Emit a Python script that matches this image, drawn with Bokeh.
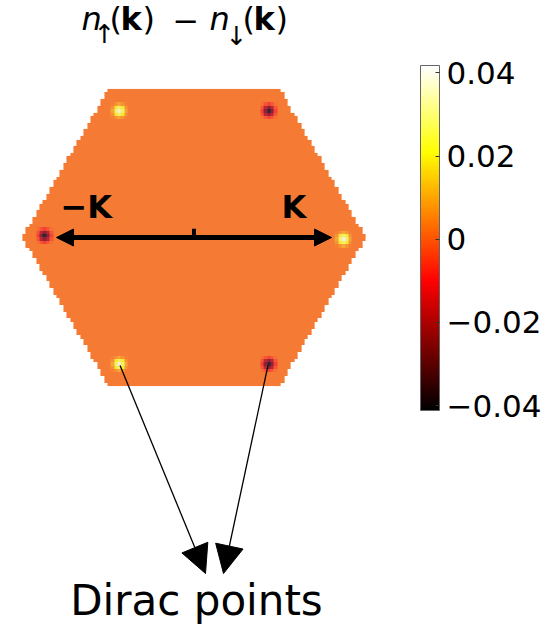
import numpy as np
from bokeh.plotting import figure
from bokeh.models import (Range1d, LinearColorMapper, ColorBar, FixedTicker,
                          CustomJSTickFormatter, Arrow, NormalHead, Label)
from bokeh.embed import file_html
from bokeh.resources import INLINE

# ---- data: spin polarisation n_up(k) - n_down(k) over the hexagonal zone ----
K_LEN = 4 * np.pi / 3                 # |K| for unit lattice constant
zone_scale = 1.16                     # sampled hexagon vertex radius in units of |K|
grid_cols = 101
grid_rows = 88
background_value = 0.003              # polarisation away from the Dirac points
dirac_angles_deg = [0, 60, 120, 180, 240, 300]
dirac_peaks = [0.037, -0.040, 0.037, -0.040, 0.037, -0.040]
# relative weight of a Dirac-point peak on the neighbouring grid cells
spot_kernel = [
    [0.03, 0.12, 0.20, 0.12, 0.03],
    [0.12, 0.50, 0.68, 0.50, 0.12],
    [0.20, 0.68, 1.00, 0.68, 0.20],
    [0.12, 0.50, 0.68, 0.50, 0.12],
    [0.03, 0.12, 0.20, 0.12, 0.03],
]
gamma_point = (0.0, 0.0)
cbar_ticks = [-0.04, -0.02, 0.0, 0.02, 0.04]
cbar_low, cbar_high = -0.0412, 0.0418

# ---- page layout (pixels) ----
W, H = 546, 639
CX, CY = 193.5, 237.0                 # pixel position of the Gamma point
PX_PER_K = 35.3


def kx(px):
    return (px - CX) / PX_PER_K


def ky(py):
    return (CY - py) / PX_PER_K


# ---- "hot" colour map ----
def hot_palette(n=256):
    cols = []
    for i in range(n):
        t = i / (n - 1)
        r = min(1.0, t / 0.375)
        g = min(1.0, max(0.0, (t - 0.375) / 0.375))
        b = min(1.0, max(0.0, (t - 0.75) / 0.25))
        cols.append("#%02x%02x%02x" % (round(r * 255), round(g * 255), round(b * 255)))
    return cols


mapper = LinearColorMapper(palette=hot_palette(), low=cbar_low, high=cbar_high,
                           nan_color="rgba(0,0,0,0)")

# ---- k-grid restricted to the hexagon ----
R = zone_scale * K_LEN
half_h = np.sqrt(3) / 2 * R
dx = 2 * R / grid_cols
dy = 2 * half_h / grid_rows
xc = -R + (np.arange(grid_cols) + 0.5) * dx
yc = -half_h + (np.arange(grid_rows) + 0.5) * dy
X, Y = np.meshgrid(xc, yc)
inside = (np.abs(Y) <= half_h) & (np.abs(Y) <= np.sqrt(3) * (R - np.abs(X)) + 1e-9)

field = np.full(X.shape, background_value)
kern = np.array(spot_kernel)
kr = kern.shape[0] // 2
dirac_x, dirac_y = [], []
for ang, peak in zip(dirac_angles_deg, dirac_peaks):
    px_ = K_LEN * np.cos(np.radians(ang))
    py_ = K_LEN * np.sin(np.radians(ang))
    dirac_x.append(px_)
    dirac_y.append(py_)
    ci = int(np.argmin(np.abs(xc - px_)))
    ri = int(np.argmin(np.abs(yc - py_)))
    for a in range(-kr, kr + 1):
        for b in range(-kr, kr + 1):
            w = kern[a + kr, b + kr]
            r_, c_ = ri + a, ci + b
            if 0 <= r_ < grid_rows and 0 <= c_ < grid_cols:
                field[r_, c_] += w * (peak - background_value)
field[~inside] = np.nan

# soft pale wash over the sampled cells (same mask as the map)
wash = np.zeros(X.shape, dtype=np.uint32)
wash_view = wash.view(dtype=np.uint8).reshape(X.shape + (4,))
wash_view[inside] = (205, 175, 255, 52)

# ---- figure ----
p = figure(width=W, height=H, x_range=Range1d(kx(0), kx(W)), y_range=Range1d(ky(H), ky(0)),
           output_backend="svg", toolbar_location=None, x_axis_type=None, y_axis_type=None,
           min_border=0, outline_line_color=None)
p.grid.visible = False
p.background_fill_color = "white"
p.border_fill_color = "white"

p.image(image=[field], x=-R, y=-half_h, dw=2 * R, dh=2 * half_h, color_mapper=mapper)
p.image_rgba(image=[wash], x=-R, y=-half_h, dw=2 * R, dh=2 * half_h)

# Gamma -> +K and Gamma -> -K arrows
Kx_pos, Kx_neg = dirac_x[0], dirac_x[3]
for kend in (Kx_pos, Kx_neg):
    p.add_layout(Arrow(x_start=gamma_point[0], y_start=gamma_point[1],
                       x_end=0.93 * kend, y_end=gamma_point[1],
                       line_width=5, line_color="black",
                       end=NormalHead(size=17, fill_color="black", line_color="black")))
p.segment(x0=[gamma_point[0]], y0=[gamma_point[1]], x1=[gamma_point[0]],
          y1=[gamma_point[1] + 0.25], line_width=4, line_color="black")

p.add_layout(Label(x=kx(60), y=ky(225), text="\u2212K", text_font="DejaVu Sans",
                   text_font_style="bold", text_font_size="32px", text_color="black"))
p.add_layout(Label(x=kx(281), y=ky(225), text="K", text_font="DejaVu Sans",
                   text_font_style="bold", text_font_size="32px", text_color="black"))

# arrows from two Dirac points down to the caption
for idx, tip in ((4, (205, 573)), (5, (223, 573))):
    p.add_layout(Arrow(x_start=dirac_x[idx], y_start=dirac_y[idx],
                       x_end=kx(tip[0]), y_end=ky(tip[1]),
                       line_width=1.3, line_color="black",
                       end=NormalHead(size=28, fill_color="black", line_color="black")))

p.add_layout(Label(x=kx(196), y=ky(624), text="Dirac points", text_align="center",
                   text_font="DejaVu Sans", text_font_size="42px", text_color="black"))

# title  n_up(k) - n_down(k)
title_pieces = [
    ("n", 81, 37, "32px", "italic"),
    ("\u2191", 93, 48, "26px", "normal"),
    ("(", 109, 37, "32px", "normal"),
    ("k", 120, 37, "32px", "bold"),
    (")", 142, 37, "32px", "normal"),
    ("\u2212", 172, 31, "32px", "normal"),
    ("n", 209, 37, "32px", "italic"),
    ("\u2193", 225, 50, "26px", "normal"),
    ("(", 242, 37, "32px", "normal"),
    ("k", 253, 37, "32px", "bold"),
    (")", 275, 37, "32px", "normal"),
]
for txt, x0, y0, fs, style in title_pieces:
    p.add_layout(Label(x=kx(x0), y=ky(y0), text=txt, text_font="DejaVu Sans",
                       text_font_size=fs, text_font_style=style, text_color="black"))

# colour bar
cb = ColorBar(color_mapper=mapper, ticker=FixedTicker(ticks=cbar_ticks),
              formatter=CustomJSTickFormatter(
                  code="return tick == 0 ? '0' : tick.toFixed(2).replace('-', '\u2212');"),
              location=(420, H - 410), width=19, height=345, padding=0,
              background_fill_alpha=0, border_line_color=None,
              bar_line_color="#666666", bar_line_width=1,
              major_tick_in=4, major_tick_out=0, major_tick_line_color="#333333",
              minor_tick_line_color=None,
              major_label_text_font="DejaVu Sans", major_label_text_font_size="31px",
              major_label_text_color="black", label_standoff=7)
p.add_layout(cb)

open("out.html", "w").write(file_html(p, INLINE))
